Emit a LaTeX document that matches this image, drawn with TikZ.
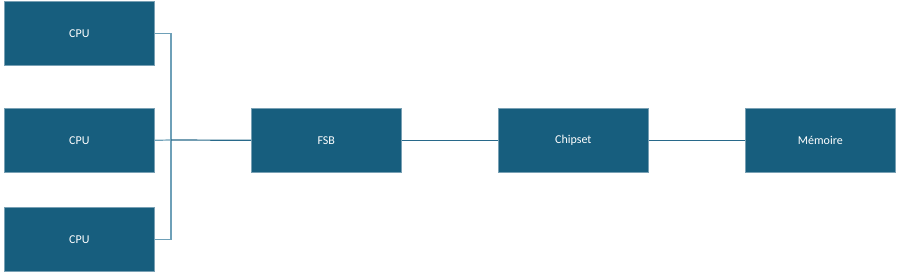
\documentclass[tikz,border=0pt]{standalone}
\usepackage{fontspec}
\setmainfont{Carlito}
\definecolor{boxfill}{RGB}{23,94,126}
\definecolor{boxedge}{RGB}{120,160,180}
\definecolor{linelight}{RGB}{110,160,184}
\definecolor{linedark}{RGB}{40,105,138}
\begin{document}
\begin{tikzpicture}[x=1pt,y=-1pt,
  blk/.style={draw=boxedge,line width=0.6pt,fill=boxfill,text=white,minimum width=150pt,minimum height=64pt,inner sep=0pt,font=\fontsize{12}{14}\selectfont,anchor=north west},
  conn/.style={draw=linelight,line width=1.2pt},
  conndark/.style={draw=linedark,line width=1.2pt}]
\useasboundingbox[fill=white] (0,0) rectangle (901,273);
\node[blk] (cpu1) at (4,1) {CPU};
\node[blk] (cpu2) at (4,108) {CPU};
\node[blk] (cpu3) at (4,207) {CPU};
\node[blk] (fsb) at (251,108) {FSB};
\node[blk] (chip) at (498,108) {Chipset};
\node[blk] (mem) at (745,108) {Mémoire};
\coordinate (bus) at (171,140);
\draw[conn] (cpu1.east) -| (bus);
\draw[conn] (cpu3.east) -| (bus);
\draw[conn] (cpu2.east) -- (bus);
\draw[conndark] (bus) -- (fsb.west);
\draw[conndark] (fsb.east) -- (chip.west);
\draw[conndark] (chip.east) -- (mem.west);
\end{tikzpicture}
\end{document}
